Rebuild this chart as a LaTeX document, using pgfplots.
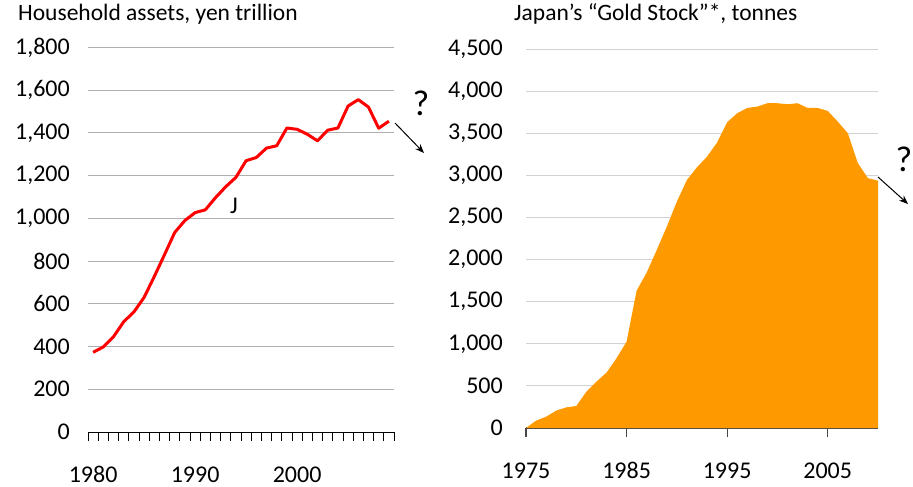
\documentclass[border=0pt]{standalone}
\usepackage{pgfplots}
\pgfplotsset{compat=1.18}
\usetikzlibrary{arrows.meta}
\usepackage{fontspec}
\setmainfont{Carlito}
\definecolor{goldorange}{RGB}{255,153,0}
\definecolor{gridL}{RGB}{175,175,175}
\definecolor{gridR}{RGB}{210,210,210}
\definecolor{axisdark}{RGB}{70,70,70}

\pgfplotstableread{
idx val
0 373
1 398
2 446
3 516
4 562
5 630
6 728
7 830
8 934
9 990
10 1027
11 1040
12 1097
13 1148
14 1192
15 1270
16 1285
17 1329
18 1340
19 1423
20 1417
21 1394
22 1363
23 1413
24 1423
25 1526
26 1556
27 1521
28 1422
29 1455
}\assets

\pgfplotstableread{
year val
1975 0
1976 87
1977 134
1978 206
1979 245
1980 261
1981 431
1982 550
1983 657
1984 828
1985 1025
1986 1631
1987 1845
1988 2114
1989 2391
1990 2688
1991 2945
1992 3096
1993 3222
1994 3389
1995 3630
1996 3737
1997 3800
1998 3816
1999 3856
2000 3856
2001 3844
2002 3856
2003 3800
2004 3800
2005 3765
2006 3638
2007 3500
2008 3144
2009 2966
2010 2937
}\gold

\begin{document}
\begin{tikzpicture}
\path[use as bounding box] (0,0) rectangle (913bp,487bp);
\pgfplotsset{
  every axis/.append style={
    font=\fontsize{24bp}{28bp}\selectfont,
    scale only axis,
    /pgf/number format/.cd, 1000 sep={,}, assume math mode=true,
  },
}
% Left panel
\begin{axis}[
  at={(88bp,55bp)}, anchor=south west,
  width=306bp, height=384.5bp,
  xmin=-0.5, xmax=29.5, ymin=0, ymax=1800,
  ytick={0,200,...,1800},
  xtick={0,10,20}, xticklabels={1980,1990,2000},
  minor xtick={-0.5,0.5,...,29.5},
  axis x line*=bottom, axis y line*=left,
  y axis line style={draw=none},
  x axis line style={draw=black, line width=1bp},
  ytick style={draw=none},
  xtick style={draw=none},
  minor tick length=9bp,
  major tick length=0pt,
  minor x tick style={draw=black, line width=0.9bp},
  xtick align=outside,
  ymajorgrids, grid style={gridL, line width=1bp},
  yticklabel style={anchor=east, inner sep=0pt},
  yticklabel shift=18bp,
  xticklabel style={anchor=base, inner sep=0pt},
  xticklabel shift=50bp,
  clip=false,
]
\addplot[red, line width=3bp, line join=round] table[x=idx, y=val] {\assets};
\end{axis}
% Right panel
\begin{axis}[
  at={(526bp,59bp)}, anchor=south west,
  width=352bp, height=379bp,
  xmin=1975, xmax=2010, ymin=0, ymax=4500,
  ytick={0,500,...,4500},
  xtick={1975,1985,1995,2005},
  xticklabel={\pgfmathprintnumber[1000 sep={}]{\tick}},
  axis x line*=bottom, axis y line*=left,
  y axis line style={draw=none},
  x axis line style={draw=axisdark, line width=1.2bp},
  ytick style={draw=none},
  xtick style={draw=axisdark, line width=1.2bp},
  major tick length=9bp,
  xtick align=outside,
  ymajorgrids, grid style={gridR, line width=1bp},
  yticklabel style={anchor=east, inner sep=0pt},
  yticklabel shift=23bp,
  xticklabel style={anchor=base, inner sep=0pt},
  xticklabel shift=41bp,
  clip=false,
]
\addplot[fill=goldorange, draw=none] table[x=year, y=val] {\gold} \closedcycle;
\end{axis}
% Titles and annotations
\node[anchor=base west, inner sep=0pt, font=\fontsize{23.5bp}{27bp}\selectfont] at (18bp,466bp) {Household assets, yen trillion};
\node[anchor=base west, inner sep=0pt, font=\fontsize{23.5bp}{27bp}\selectfont] at (514bp,466bp) {Japan’s “Gold Stock”*, tonnes};
\node[anchor=base, inner sep=0pt, font=\fontsize{24bp}{28bp}\selectfont] at (234bp,273bp) {J};
\node[anchor=base, inner sep=0pt, font=\fontsize{36bp}{42bp}\selectfont] at (421bp,371bp) {?};
\node[anchor=base east, inner sep=0pt, font=\fontsize{36bp}{42bp}\selectfont] at (912.5bp,315bp) {?};
\draw[-{Stealth[length=9bp,width=7bp]}, line width=1bp] (395bp,364bp) -- (424bp,334bp);
\draw[-{Stealth[length=9bp,width=7bp]}, line width=1bp] (878bp,310bp) -- (908bp,283bp);
\end{tikzpicture}
\end{document}
